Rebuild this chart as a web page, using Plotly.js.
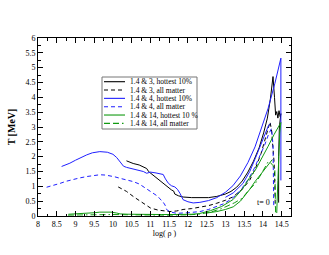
<!DOCTYPE html>
<html>
<head>
<meta charset="utf-8">
<script src="https://cdn.plot.ly/plotly-3.0.1.min.js"></script>
<style>html,body{margin:0;padding:0;background:#fff;}#chart{width:329px;height:255px;}</style>
</head>
<body>
<div id="chart"></div>
<script>
// ---- data ----
var b3hX = [10.36,10.54,10.7,10.81,10.9,10.95,11.0,11.08,11.2,11.3,11.4,11.5,11.56,11.62,11.65,11.75,11.87,12.1,12.32,12.55,12.77,13.0,13.15,13.3,13.45,13.6,13.75,13.9,14.02,14.12,14.2,14.27,14.31,14.34,14.37,14.4,14.43,14.46,14.48,14.44,14.42,14.41,14.42];
var b3hY = [1.86,1.77,1.72,1.65,1.6,1.5,1.45,1.35,1.22,1.12,1.02,0.93,0.88,0.84,0.74,0.68,0.64,0.62,0.61,0.62,0.66,0.74,0.83,0.97,1.18,1.48,1.85,2.3,2.8,3.3,3.95,4.7,4.0,3.4,3.52,3.3,3.55,3.35,3.45,3.0,2.0,1.0,0.45];

var b3aX = [10.14,10.36,10.55,10.72,10.9,11.0,11.2,11.34,11.52,11.7,11.87,12.1,12.32,12.55,12.77,13.0,13.21,13.47,13.65,13.8,13.95,14.1,14.19,14.23,14.27,14.3,14.32,14.33];
var b3aY = [0.98,0.83,0.65,0.5,0.35,0.27,0.2,0.17,0.15,0.17,0.22,0.25,0.29,0.35,0.43,0.53,0.65,0.93,1.21,1.6,2.1,2.75,3.17,2.9,2.4,1.8,1.0,0.3];

var b4hX = [8.63,8.75,8.85,9.0,9.12,9.3,9.45,9.65,9.85,10.0,10.1,10.2,10.28,10.36,10.5,10.65,10.81,10.9,11.0,11.15,11.34,11.4,11.48,11.56,11.65,11.72,11.79,11.87,12.0,12.14,12.32,12.55,12.77,13.0,13.2,13.4,13.6,13.79,13.95,14.14,14.32,14.48,14.48,
            null,13.0,13.21,13.47,13.65,13.8,14.0,14.15,14.2];
var b4hY = [1.67,1.72,1.78,1.88,1.96,2.06,2.13,2.17,2.15,2.08,1.97,1.8,1.68,1.64,1.6,1.55,1.5,1.44,1.48,1.45,1.4,1.25,1.1,1.02,0.98,0.9,0.76,0.55,0.48,0.44,0.46,0.52,0.62,0.8,1.02,1.35,1.8,2.33,2.9,3.63,4.47,5.32,1.2,
            null,0.63,0.78,1.1,1.5,1.95,2.6,3.05,3.1];

var b4aX = [8.23,8.4,8.59,8.75,8.94,9.1,9.3,9.5,9.65,9.8,9.92,10.05,10.19,10.35,10.54,10.7,10.81,10.95,11.08,11.2,11.25,11.32,11.39,11.43,11.52,11.7,12.0,12.32,12.55,12.77,12.95,13.12,13.3,13.45,13.6,13.75,13.9,14.05,14.15,14.23,14.27,14.28,14.29];
var b4aY = [0.97,1.02,1.1,1.17,1.24,1.28,1.33,1.37,1.39,1.38,1.36,1.32,1.27,1.22,1.16,1.08,0.99,0.88,0.76,0.66,0.58,0.5,0.37,0.22,0.14,0.09,0.11,0.15,0.22,0.31,0.41,0.54,0.72,0.95,1.22,1.55,1.95,2.4,2.75,2.95,2.4,1.2,0.3];

var g14hX = [8.81,9.0,9.3,9.5,9.65,9.8,9.95,10.1,10.19,10.4,10.7,11.0,11.3,11.6,11.9,12.1,12.3,12.6,12.9,13.2,13.45,13.65,13.8,14.0,14.14,14.3,14.48,14.45,14.42,14.4,14.38,14.37,
             null,12.5,12.77,13.0,13.21,13.4,13.57,13.65,13.79,13.95,14.14,14.25];
var g14hY = [0.06,0.07,0.09,0.11,0.13,0.14,0.13,0.1,0.07,0.06,0.05,0.05,0.05,0.05,0.05,0.06,0.08,0.18,0.32,0.55,0.9,1.3,1.55,2.0,2.35,2.75,3.15,2.8,2.1,1.2,0.5,0.1,
             null,0.1,0.15,0.22,0.31,0.5,0.76,0.9,1.16,1.42,1.72,1.9];

var g14aX = [8.8,9.2,9.6,10.0,10.5,11.0,11.5,12.0,12.3,12.6,12.9,13.25,13.45,13.61,13.8,13.95,14.05,14.14,14.2,14.27,14.32,14.33,14.34];
var g14aY = [0.03,0.04,0.05,0.05,0.04,0.03,0.03,0.04,0.06,0.13,0.25,0.45,0.6,0.85,1.1,1.4,1.65,1.83,1.8,1.7,1.55,0.8,0.05];

var seriesNames = ["1.4 & 3, hottest 10%","1.4 & 3, all matter","1.4 & 4, hottest 10%","1.4 & 4, all matter","1.4 & 14, hottest 10 %","1.4 & 14, all matter"];
var xTitle = "log( \u03c1 )";
var yTitle = "T [MeV]";
var noteText = "t= 0";
var noteX = 14.02, noteY = 0.44;

// ---- styles ----
var BLK = "#000000", BLU = "#1f1fff", GRN = "#119a11";
var dashA = "4px,3px";
var dashG = "6px,3px,6px,3px,1.5px,3px";
var colors = [BLK, BLK, BLU, BLU, GRN, GRN];
var dashes = ["solid", dashA, "solid", dashA, "solid", dashG];
var xs = [b3hX, b3aX, b4hX, b4aX, g14hX, g14aX];
var ys = [b3hY, b3aY, b4hY, b4aY, g14hY, g14aY];
var FONT = "Liberation Serif, Times New Roman, serif";

var traces = xs.map(function(x, i){
  return {x: x, y: ys[i], type: "scatter", mode: "lines", name: seriesNames[i],
          line: {color: colors[i], width: 1.0, dash: dashes[i]}, connectgaps: false, hoverinfo: "skip"};
});

// plot area in pixels
var W = 329, H = 255, L = 38, R = 38, T = 38, B = 39;
var pw = W - L - R, ph = H - T - B;
function px2x(p){ return (p - L) / pw; }
function px2y(p){ return (H - B - p) / ph; }

// compact legend
var shapes = [], annotations = [];
shapes.push({type: "rect", xref: "paper", yref: "paper",
  x0: px2x(102), x1: px2x(197), y0: px2y(129), y1: px2y(77),
  line: {color: "#777", width: 1}, fillcolor: "#fff", layer: "above"});
seriesNames.forEach(function(nm, i){
  var py = 81.7 + i * 8.33;
  shapes.push({type: "line", xref: "paper", yref: "paper",
    x0: px2x(104), x1: px2x(125), y0: px2y(py), y1: px2y(py),
    line: {color: colors[i], width: 1.1, dash: dashes[i]}, layer: "above"});
  annotations.push({xref: "paper", yref: "paper", x: px2x(128), y: px2y(py),
    xanchor: "left", yanchor: "middle", showarrow: false, text: nm,
    font: {family: FONT, size: 7.5, color: "#000"}});
});
annotations.push({xref: "x", yref: "y", x: noteX, y: noteY, text: noteText, showarrow: false,
  xanchor: "center", yanchor: "middle", font: {family: FONT, size: 8, color: "#000"}});

var axisCommon = {
  showline: true, linecolor: "#000", linewidth: 1, mirror: "ticks",
  ticks: "inside", ticklen: 5, tickwidth: 1, tickcolor: "#000",
  showgrid: false, zeroline: false,
  tickfont: {family: FONT, size: 8, color: "#000000"},
  minor: {ticks: "inside", ticklen: 2.5, tickwidth: 1, tickcolor: "#000", showgrid: false}
};

var layout = {
  width: W, height: H,
  margin: {l: L, r: R, t: T, b: B, pad: 0},
  paper_bgcolor: "#fff", plot_bgcolor: "#fff",
  showlegend: false,
  xaxis: Object.assign({}, axisCommon, {range: [8, 14.75], dtick: 0.5, tick0: 8,
    minor: Object.assign({}, axisCommon.minor, {dtick: 0.25}),
    title: {text: xTitle, font: {family: FONT, size: 8, color: "#000"}, standoff: 1}}),
  yaxis: Object.assign({}, axisCommon, {range: [0, 6], dtick: 0.5, tick0: 0,
    minor: Object.assign({}, axisCommon.minor, {dtick: 0.25}),
    title: {text: yTitle, font: {family: FONT, size: 10, color: "#000", weight: "bold"}, standoff: 7}}),
  shapes: shapes,
  annotations: annotations
};

Plotly.newPlot("chart", traces, layout, {staticPlot: true, displayModeBar: false});
</script>
</body>
</html>
